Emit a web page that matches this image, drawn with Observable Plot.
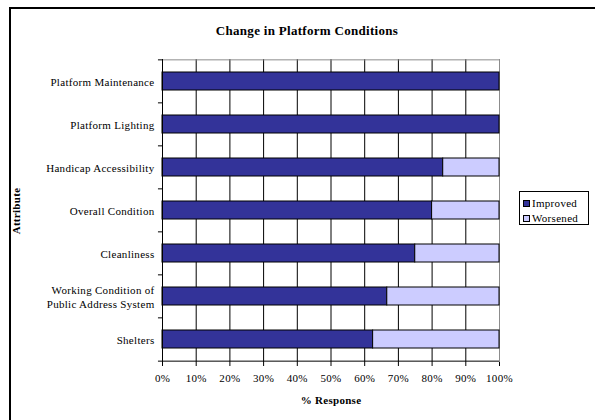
<!DOCTYPE html>
<html>
<head>
<meta charset="utf-8">
<script src="https://cdn.jsdelivr.net/npm/d3@7"></script>
<script src="https://cdn.jsdelivr.net/npm/@observablehq/plot@0.6"></script>
<style>
  html, body { margin: 0; padding: 0; background: #fff; }
  #wrap { position: relative; width: 595px; height: 420px; overflow: hidden; }
  #border { position: absolute; left: 9px; top: 7px; right: -10px; bottom: -10px;
            border-left: 2px solid #000; border-top: 2px solid #000; pointer-events: none; }
  #legend { position: absolute; left: 519px; top: 191px; width: 68px; height: 32px;
            border: 1px solid #000; background: #fff;
            font-family: "Liberation Serif", serif; font-size: 11px; letter-spacing: 0.3px; color: #000; }
  #legend .row { position: absolute; left: 3px; display: flex; align-items: center; line-height: 12px; }
  #legend .sw { width: 5px; height: 5px; border: 1px solid #000; margin-right: 2px; }
</style>
</head>
<body>
<div id="wrap"></div>
<script>
const title = "Change in Platform Conditions";
const xLabel = "% Response";
const yLabel = "Attribute";
const categories = [
  "Platform Maintenance",
  "Platform Lighting",
  "Handicap Accessibility",
  "Overall Condition",
  "Cleanliness",
  "Working Condition of\nPublic Address System",
  "Shelters"
];
const series = ["Improved", "Worsened"];
const improved = [100, 100, 83.3, 80, 75, 66.7, 62.5];
const worsened = [0, 0, 16.7, 20, 25, 33.3, 37.5];
const xTicks = [0, 10, 20, 30, 40, 50, 60, 70, 80, 90, 100];
const colors = ["#333399", "#CCCCFF"];

const rows = [];
categories.forEach((c, i) => {
  if (improved[i] > 0) rows.push({category: c, series: "Improved", value: improved[i]});
  if (worsened[i] > 0) rows.push({category: c, series: "Worsened", value: worsened[i]});
});

const W = 595, H = 420, mL = 162, mT = 59, mR = 96, mB = 58;
const step = (H - mT - mB) / categories.length;
const font = "Liberation Serif";

const chart = Plot.plot({
  width: W, height: H,
  marginLeft: mL, marginTop: mT, marginRight: mR, marginBottom: mB,
  style: {fontFamily: font, fontSize: "11px", letterSpacing: "0.3px", background: "transparent", color: "#000"},
  x: {domain: [0, 100]},
  y: {domain: categories, paddingInner: 0.58, paddingOuter: 0.29},
  color: {domain: series, range: colors},
  marks: [
    Plot.ruleX(xTicks.slice(1, -1), {stroke: "#000", strokeWidth: 1}),
    Plot.ruleX([100], {stroke: "#8c8c8c", strokeWidth: 1}),
    Plot.ruleY([categories[0]], {dy: -step / 2, stroke: "#8c8c8c", strokeWidth: 1}),
    Plot.barX(rows, Plot.stackX({x: "value", y: "category", fill: "series", stroke: "#000", strokeWidth: 1, order: series})),
    Plot.ruleX([0], {stroke: "#000", strokeWidth: 1}),
    Plot.ruleY([categories[categories.length - 1]], {dy: step / 2, stroke: "#000", strokeWidth: 1, x1: 0, x2: 100}),
    Plot.ruleY(categories, {dy: -step / 2, x1: -1.2, x2: 0, stroke: "#000", strokeWidth: 1}),
    Plot.ruleY([categories[categories.length - 1]], {dy: step / 2, x1: -1.2, x2: 0, stroke: "#000", strokeWidth: 1}),
    Plot.axisX({ticks: xTicks, tickFormat: d => d + "%", label: null, tickSize: 4, tickPadding: 8, fontSize: 11, stroke: "#000"}),
    Plot.axisY({label: null, tickSize: 0, tickPadding: 8, fontSize: 11, lineHeight: 1.25}),
    Plot.text([title], {frameAnchor: "top", lineAnchor: "middle", dy: -29, dx: -24, fontWeight: "bold", fontSize: 13, fill: "#000"}),
    Plot.text([xLabel], {frameAnchor: "bottom", lineAnchor: "middle", dy: 38, fontWeight: "bold", fontSize: 11, fill: "#000"}),
    Plot.text([yLabel], {frameAnchor: "left", textAnchor: "middle", lineAnchor: "middle", dx: -146, rotate: -90, fontWeight: "bold", fontSize: 11, fill: "#000"})
  ]
});

const wrap = document.getElementById("wrap");
wrap.appendChild(chart);
const border = document.createElement("div");
border.id = "border";
wrap.appendChild(border);

const legend = document.createElement("div");
legend.id = "legend";
series.forEach((s, i) => {
  const row = document.createElement("div");
  row.className = "row";
  row.style.top = (5 + i * 15) + "px";
  const sw = document.createElement("div");
  sw.className = "sw";
  sw.style.background = colors[i];
  const t = document.createElement("span");
  t.textContent = s;
  row.appendChild(sw);
  row.appendChild(t);
  legend.appendChild(row);
});
wrap.appendChild(legend);
</script>
</body>
</html>
